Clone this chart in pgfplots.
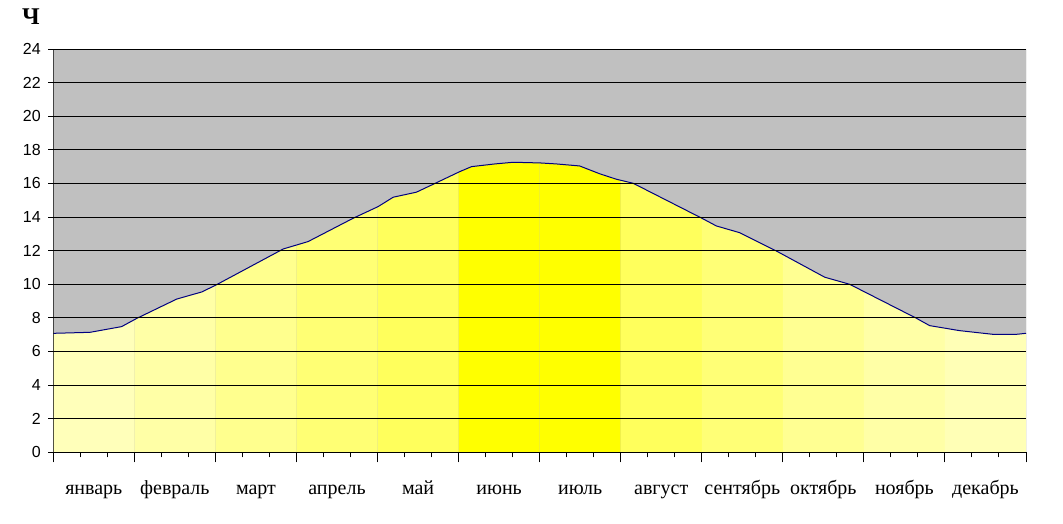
\documentclass[border=0pt]{standalone}
\usepackage{pgfplots}
\pgfplotsset{compat=1.18}
\usepackage{pgfplotstable}
\usepgfplotslibrary{fillbetween}
\usepackage{fontspec}
\setmainfont{Liberation Sans}
\newfontfamily\serif{Liberation Serif}
\definecolor{bg}{HTML}{C0C0C0}
\definecolor{curvecol}{HTML}{000080}
\definecolor{mA}{HTML}{FFFFBA}
\definecolor{mB}{HTML}{FFFFA6}
\definecolor{mC}{HTML}{FFFF8E}
\definecolor{mD}{HTML}{FFFF74}
\definecolor{mE}{HTML}{FFFF5C}
\definecolor{mF}{HTML}{FFFF00}
\definecolor{mG}{HTML}{FFFF00}
\definecolor{mH}{HTML}{FFFF5C}
\definecolor{mI}{HTML}{FFFF76}
\definecolor{mJ}{HTML}{FFFF92}
\definecolor{mK}{HTML}{FFFFA6}
\definecolor{mL}{HTML}{FFFFB6}

% x in ten-day periods (0..36), y = day length in hours
\pgfplotstableread{
x y
0.00 7.08
1.36 7.14
2.53 7.48
3.09 7.97
4.57 9.12
5.49 9.54
5.98 9.92
8.51 12.10
9.43 12.54
11.10 13.93
12.02 14.62
12.58 15.18
13.44 15.48
14.06 15.95
15.04 16.70
15.48 17.00
16.34 17.16
17.02 17.26
18.01 17.22
18.62 17.16
19.48 17.04
20.23 16.57
20.84 16.25
21.46 16.01
24.05 13.89
24.54 13.47
25.40 13.07
26.76 11.98
28.55 10.42
29.47 10.00
31.94 7.98
32.43 7.54
33.54 7.24
34.78 7.02
35.64 7.02
36.00 7.08
}\daylen

\begin{document}
\begin{tikzpicture}
\path (0pt,0pt) rectangle (1063pt,523pt);
\node[anchor=base, font=\serif\bfseries\fontsize{24}{28}\selectfont] at (31pt,498pt) {Ч};
\begin{axis}[
  at={(53.3pt,70.7pt)}, anchor=south west,
  scale only axis, width=972.7pt, height=403.3pt,
  xmin=0, xmax=36, ymin=0, ymax=24,
  axis background/.style={fill=bg},
  axis on top,
  axis line style={draw=none},
  ytick={0,2,...,24},
  xtick={1.5,4.5,...,34.5},
  xticklabels={январь,февраль,март,апрель,май,июнь,июль,август,сентябрь,октябрь,ноябрь,декабрь},
  xtick style={draw=none},
  ytick style={black, line width=1pt},
  xtick pos=bottom, ytick pos=left,
  tick align=outside,
  major tick length=5pt,
  ymajorgrids,
  grid style={black, line width=1pt},
  /pgf/number format/assume math mode=true,
  yticklabel style={font=\fontsize{16}{19}\selectfont, xshift=-4pt},
  xticklabel style={font=\serif\fontsize{20}{24}\selectfont, anchor=base, yshift=-37pt},
]
\addplot[name path=curve, draw=none, forget plot] table[x=x,y=y] {\daylen};
\addplot[name path=base, draw=none, forget plot] coordinates {(0,0) (36,0)};
\addplot[mA, draw=none] fill between[of=curve and base, soft clip={domain=0:3}];
\addplot[mB, draw=none] fill between[of=curve and base, soft clip={domain=3:6}];
\addplot[mC, draw=none] fill between[of=curve and base, soft clip={domain=6:9}];
\addplot[mD, draw=none] fill between[of=curve and base, soft clip={domain=9:12}];
\addplot[mE, draw=none] fill between[of=curve and base, soft clip={domain=12:15}];
\addplot[mF, draw=none] fill between[of=curve and base, soft clip={domain=15:18}];
\addplot[mG, draw=none] fill between[of=curve and base, soft clip={domain=18:21}];
\addplot[mH, draw=none] fill between[of=curve and base, soft clip={domain=21:24}];
\addplot[mI, draw=none] fill between[of=curve and base, soft clip={domain=24:27}];
\addplot[mJ, draw=none] fill between[of=curve and base, soft clip={domain=27:30}];
\addplot[mK, draw=none] fill between[of=curve and base, soft clip={domain=30:33}];
\addplot[mL, draw=none] fill between[of=curve and base, soft clip={domain=33:36}];
\addplot[curvecol, line width=1pt] table[x=x,y=y] {\daylen};
\draw[gray, line width=1pt] (rel axis cs:1,0) -- (rel axis cs:1,1);
\draw[black, line width=1pt] (rel axis cs:0,1) -- (rel axis cs:0,0) -- (rel axis cs:1,0);
\end{axis}
\begin{axis}[
  at={(53.3pt,70.7pt)}, anchor=south west,
  scale only axis, width=972.7pt, height=403.3pt,
  xmin=0, xmax=36, ymin=0, ymax=24,
  axis line style={draw=none},
  ytick=\empty,
  xtick={0,3,...,36},
  xticklabels={},
  minor x tick num=2,
  xtick pos=bottom,
  tick align=outside,
  major tick length=10pt,
  minor tick length=5pt,
  tick style={black, line width=1pt},
]
\addplot[draw=none, forget plot] coordinates {(0,0) (36,24)};
\end{axis}
\end{tikzpicture}
\end{document}
